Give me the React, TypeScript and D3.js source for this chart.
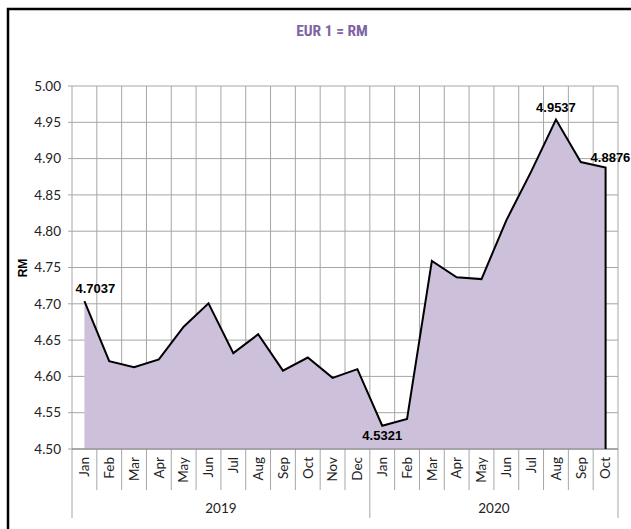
import React from 'react'
import { scaleBand, scaleLinear, area, line } from 'd3'

// monthly EUR → RM rate
const months = ['Jan', 'Feb', 'Mar', 'Apr', 'May', 'Jun', 'Jul', 'Aug', 'Sep', 'Oct', 'Nov', 'Dec',
  'Jan', 'Feb', 'Mar', 'Apr', 'May', 'Jun', 'Jul', 'Aug', 'Sep', 'Oct']
const years = ['2019', '2020']
const yearSpans = [12, 10]
const rates = [4.7037, 4.621, 4.6125, 4.6235, 4.6685, 4.7007, 4.632, 4.658, 4.608, 4.626, 4.598, 4.61,
  4.5321, 4.5413, 4.759, 4.7365, 4.734, 4.815, 4.882, 4.9537, 4.8953, 4.8876]
const yTicks = [4.5, 4.55, 4.6, 4.65, 4.7, 4.75, 4.8, 4.85, 4.9, 4.95, 5.0]
const labelled = [0, 12, 19, 21]

const App = () => {
  const left = 72, right = 618, top = 86, bottom = 449

  const xScale = scaleBand<number>().domain(months.map((_, i) => i)).range([left, right])
  const yScale = scaleLinear().domain([4.5, 5.0]).range([bottom, top])
  const cx = (i: number) => (xScale(i) as number) + xScale.bandwidth() / 2

  const areaPath = area<number>()
    .x((_, i) => cx(i))
    .y0(yScale(4.5))
    .y1(d => yScale(d))(rates) as string

  // outline goes along the top and down the right edge
  const pts: [number, number][] = rates.map((d, i) => [cx(i), yScale(d)])
  pts.push([cx(rates.length - 1), yScale(4.5)])
  const linePath = line()(pts) as string

  const bounds = months.map((_, i) => xScale(i) as number).concat([right])
  let acc = 0
  const yearEdges = [left]
  yearSpans.forEach(n => { acc += n; yearEdges.push(bounds[acc]) })

  const axisFont = { fontFamily: 'Lato, sans-serif' }

  return (
    <svg width={631} height={529} style={{ position: 'absolute', left: 0, top: 0 }}>
      <rect x={0} y={0} width={631} height={529} fill="#fff" />
      <rect x={8} y={9} width={700} height={600} fill="none" stroke="#000" strokeWidth={2.5} />

      <text x={332} y={36} textAnchor="middle" fill="#8064a2" fontWeight="bold" fontSize={15.5}
        style={{ fontFamily: "'Liberation Sans Narrow', 'Roboto Condensed', Roboto, sans-serif" }}>EUR 1 = RM</text>

      {/* horizontal grid + y ticks */}
      {yTicks.map(t => (
        <g key={t}>
          <line x1={left - 4} x2={right} y1={yScale(t)} y2={yScale(t)} stroke="#a6a6a6" strokeWidth={1} />
          <text x={61} y={yScale(t)} dy="0.35em" textAnchor="end" fontSize={13.5} fill="#222"
            style={axisFont}>{t.toFixed(2)}</text>
        </g>
      ))}

      {/* vertical grid + category separators */}
      {bounds.map((b, i) => (
        <line key={i} x1={b} x2={b} y1={top} y2={yearEdges.includes(b) ? 518 : 490} stroke="#a6a6a6" strokeWidth={1} />
      ))}

      <path d={areaPath} fill="#ccc0da" />
      <line x1={left} x2={right} y1={bottom} y2={bottom} stroke="#7f7f7f" strokeWidth={1} />
      <path d={linePath} fill="none" stroke="#000" strokeWidth={2} strokeLinejoin="miter" />

      {/* data labels */}
      {labelled.map(i => {
        const v = rates[i]
        let x = cx(i), y = yScale(v) - 8, anchor = 'middle'
        if (i === 0) { x = cx(i) - 9; anchor = 'start' }
        if (i === 12) { y = yScale(v) + 14 }
        if (i === 21) { x = cx(i) - 15; y = yScale(v) - 6; anchor = 'start' }
        return (
          <text key={i} x={x} y={y} textAnchor={anchor} fontWeight="bold" fontSize={13} fill="#000"
            style={{ fontFamily: "'Liberation Sans', Arial, sans-serif" }}>{v.toFixed(4)}</text>
        )
      })}

      {/* month labels */}
      {months.map((m, i) => (
        <text key={i} transform={`translate(${cx(i)},457) rotate(-90)`} textAnchor="end" dy="0.35em"
          fontSize={13.5} fill="#222" style={axisFont}>{m}</text>
      ))}

      {/* year labels */}
      {years.map((yr, k) => (
        <text key={yr} x={(yearEdges[k] + yearEdges[k + 1]) / 2} y={513} textAnchor="middle"
          fontSize={13.5} fill="#222" style={axisFont}>{yr}</text>
      ))}

      <text transform="translate(27,268) rotate(-90)" textAnchor="middle" fontWeight="bold" fontSize={12}
        fill="#000" style={{ fontFamily: "'Liberation Sans', Arial, sans-serif" }}>RM</text>
    </svg>
  )
}

export default App
